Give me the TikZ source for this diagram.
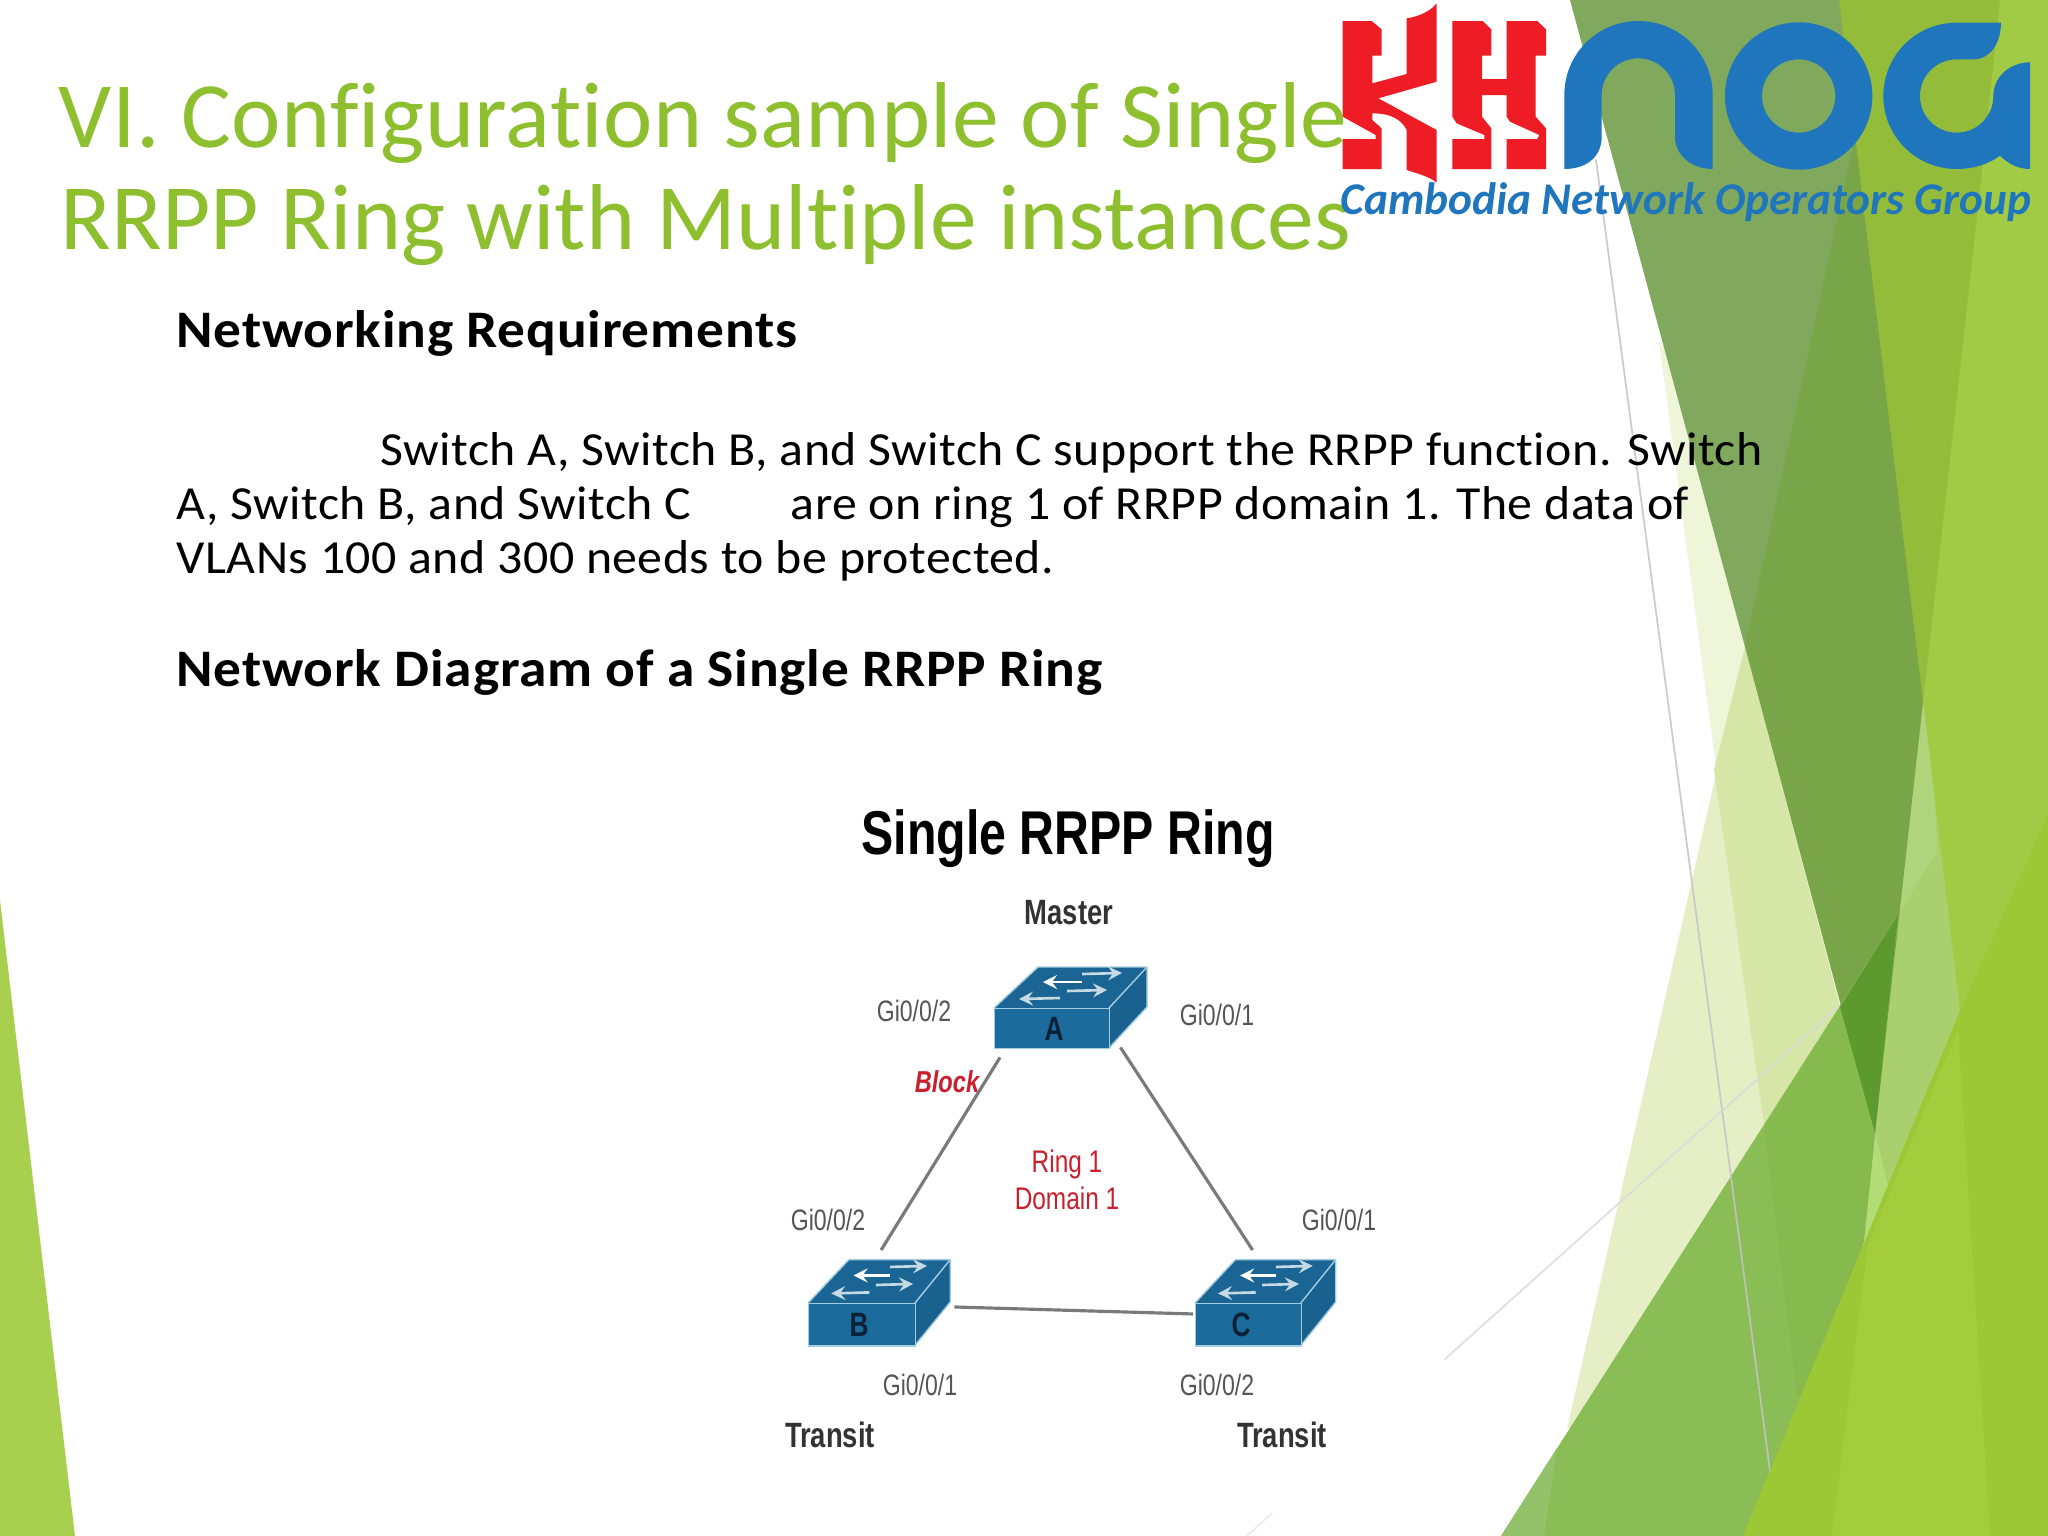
\documentclass[tikz,border=0pt]{standalone}
\usepackage{fontspec}
\setmainfont[Ligatures=NoCommon]{Carlito}
\newfontfamily\titlewide[Ligatures=NoCommon, LetterSpace=0.4]{Carlito}
\newfontfamily\bodyfont[Ligatures=NoCommon, FakeStretch=1.05, LetterSpace=1]{Carlito}
\newfontfamily\headfont[Ligatures=NoCommon, FakeStretch=1.05, LetterSpace=1.5]{Carlito}
\newfontfamily\figfont[FakeStretch=0.78]{Liberation Sans}
\definecolor{titlegreen}{HTML}{8DBF2E}
\definecolor{logored}{HTML}{EE1C25}
\definecolor{logoblue}{HTML}{1F76BC}
\definecolor{swface}{HTML}{1B6B9C}
\definecolor{swtop}{HTML}{1A6594}
\definecolor{swedge}{HTML}{A5CDE0}
\definecolor{swfade}{HTML}{C6DAE6}
\definecolor{swink}{HTML}{0B2236}
\definecolor{figgrey}{HTML}{555555}
\definecolor{figred}{HTML}{C8202F}
\definecolor{leftgreen}{HTML}{A9CF4F}
\definecolor{palea}{HTML}{EEF5D8}
\definecolor{paleb}{HTML}{E5EEC5}
\definecolor{palec}{HTML}{D6E6A6}
\definecolor{greyleaf}{HTML}{80A95E}
\definecolor{darkleaf}{HTML}{78A548}
\definecolor{oliveleaf}{HTML}{93BC3A}
\definecolor{lightleaf}{HTML}{A2CB45}
\definecolor{softleaf}{HTML}{A9CF6F}
\definecolor{softleafb}{HTML}{B0D47C}
\definecolor{softleafc}{HTML}{B2DC75}
\definecolor{midleaf}{HTML}{8ABD55}
\definecolor{midleafb}{HTML}{86BA4F}
\definecolor{midleafc}{HTML}{93C26A}
\definecolor{deepleaf}{HTML}{5D9A2D}
\definecolor{brightleaf}{HTML}{9CC835}
\definecolor{brightleafb}{HTML}{A4CD3E}
\definecolor{lineone}{HTML}{C4C4C8}
\definecolor{linetwo}{HTML}{D8D8DC}
\definecolor{linethree}{HTML}{ECECEF}
\tikzset{
  titletext/.style={anchor=base west, inner sep=0, text=titlegreen, font=\fontsize{26.6}{30}\selectfont},
  headtext/.style={anchor=base west, inner sep=0, font=\headfont\fontsize{15}{18}\selectfont\bfseries},
  bodytext/.style={anchor=base west, inner sep=0, font=\bodyfont\fontsize{13.5}{16}\selectfont},
  figtext/.style={anchor=base, inner sep=0, font=\figfont\fontsize{8.4}{10}\selectfont},
  portlabel/.style={figtext, text=figgrey},
  rolelabel/.style={figtext, text=black!80, font=\figfont\fontsize{10}{12}\selectfont\bfseries},
  ringlabel/.style={figtext, text=figred, font=\figfont\fontsize{8.9}{10}\selectfont},
  swfront/.style={draw=swedge, fill=swface, line width=0.4pt, inner sep=0, anchor=north west,
    minimum width=1.15cm, minimum height=0.40cm, transform shape},
  swtext/.style={inner sep=0, text=swink, font=\figfont\fontsize{9.6}{11}\selectfont\bfseries},
  swpanel/.style={draw=swedge, line width=0.4pt, line join=round},
  swarrow/.style={->, line width=0.75pt},
  link/.style={draw=black!52, line width=0.9pt},
  thinline/.style={line width=0.5pt, line cap=round}
}
\begin{document}
\begin{tikzpicture}[>=stealth, x=0.01cm, y=-0.01cm]
  \useasboundingbox (0, 0) rectangle (2048, 1536);
  \fill[white] (0, 0) rectangle (2048, 1536);

  \fill[leftgreen] (0, 900) -- (75, 1536) -- (0, 1536) -- cycle;

  \fill[palea] (1659, 342) -- (1764, 1124) -- (1900, 1000) -- (1800, 500) -- cycle;
  \fill[paleb] (1745, 647) -- (1567, 1429) -- (1620, 1400) -- (1840, 1007) -- cycle;
  \fill[palec] (1745, 647) -- (1714, 770) -- (1764, 1124) -- (1840, 1007) -- cycle;

  \fill[lightleaf] (1900, 0) -- (2048, 0) -- (2048, 1000) -- (1900, 1200) -- cycle;
  \fill[oliveleaf] (1820, 0) -- (2000, 0) -- (1977, 216) -- (1923, 702) -- (1890, 750) -- cycle;
  \fill[softleaf] (1923, 702) -- (1960, 1011) -- (1880, 1250) -- (1860, 1133) -- (1880, 800) -- cycle;
  \fill[softleafb] (1923, 702) -- (1935, 800) -- (1937, 852) -- (1898, 915) -- (1880, 800) -- cycle;
  \fill[softleafc] (1875, 1133) -- (1895, 1213) -- (1870, 1260) -- (1864, 1241) -- cycle;
  \fill[greyleaf] (1570, 0) -- (1839, 0) -- (1855, 136) -- (1780, 647) -- (1745, 647) -- cycle;
  \fill[darkleaf] (1855, 136) -- (1745, 647) -- (1875, 1133) -- (1923, 702) -- cycle;

  \fill[midleaf] (1501, 1536) -- (1898, 915) -- (1875, 1133) -- (1864, 1241) -- (1800, 1536) -- cycle;
  \fill[midleafb] (1764, 1129) -- (1840, 1007) -- (1875, 1133) -- (1864, 1241) -- (1830, 1400) -- (1797, 1396) -- cycle;
  \fill[midleafc] (1501, 1536) -- (1544, 1536) -- (1557, 1448) -- cycle;
  \fill[deepleaf] (1898, 915) -- (1840, 1007) -- (1875, 1133) -- cycle;

  \draw[thinline, lineone, draw opacity=0.85] (1596, 160) -- (1681, 800) -- (1770, 1471);
  \draw[thinline, linetwo, draw opacity=0.8] (1445, 1359) -- (1838, 1007);
  \draw[thinline, linethree] (1247, 1536) -- (1272, 1513);

  \fill[brightleaf] (1743, 1536) -- (1960, 1011) -- (2048, 814) -- (2048, 1536) -- cycle;
  \fill[brightleafb] (1832, 1536) -- (1868, 1245) -- (1958, 1030) -- (1990, 1536) -- cycle;

  \node[titletext] (titleone) at (58, 147) {\titlewide VI. Configuration sample of Single};
  \node[titletext] (titletwo) at (60, 249) {RRPP Ring with Multiple instances};

  \node[headtext] (reqhead) at (176, 347) {Networking Requirements};
  \node[bodytext] (paraone) at (380, 465) {Switch A, Switch B, and Switch C support the RRPP function. Switch};
  \node[bodytext] (paratwo) at (176, 519) {A, Switch B, and Switch C};
  \node[bodytext] (paratwob) at (790, 519) {are on ring 1 of RRPP domain 1. The data of};
  \node[bodytext] (parathree) at (176, 573) {VLANs 100 and 300 needs to be protected.};
  \node[headtext] (diaghead) at (176, 686) {Network Diagram of a Single RRPP Ring};

  \begin{scope}[shift={(1330, 0)}, scale=1/3]
    \fill[logored] (38, 63) -- (125, 63) -- (155, 88) -- (155, 167) -- (127, 167) -- (127, 250) -- (230, 222) -- (230, 55)
      .. controls (265, 50) and (300, 35) .. (320, 10) -- (320, 245) -- (145, 295) -- (320, 390) -- (320, 548)
      .. controls (300, 530) and (260, 520) .. (230, 510) -- (230, 390) .. controls (215, 360) and (185, 340) .. (127, 340)
      -- (127, 360) -- (155, 385) -- (155, 507) -- (38, 507) -- (38, 417) -- (137, 417) -- (137, 405) -- (38, 350) -- cycle;
    \fill[logored] (367, 63) -- (458, 63) -- (484, 88) -- (484, 167) -- (456, 167) -- (456, 237) -- (530, 237) -- (530, 63)
      -- (622, 63) -- (648, 88) -- (648, 167) -- (617, 167) -- (617, 350) -- (648, 385) -- (648, 507) -- (530, 507)
      -- (530, 417) -- (622, 417) -- (628, 405) -- (540, 365) -- (530, 350) -- (530, 285) -- (456, 285) -- (456, 350)
      -- (484, 385) -- (484, 507) -- (367, 507) -- (367, 417) -- (463, 417) -- (463, 405) -- (380, 370) -- (367, 350) -- cycle;
  \end{scope}
  \begin{scope}[shift={(1550, 10)}, scale=1/3]
    \fill[logoblue] (43, 477) .. controls (110, 477) and (155, 440) .. (155, 380) -- (155, 255)
      .. controls (155, 194) and (204, 145) .. (265, 145) .. controls (326, 145) and (375, 194) .. (375, 255) -- (375, 380)
      .. controls (375, 440) and (430, 477) .. (488, 477) -- (488, 255)
      .. controls (488, 132) and (388, 33) .. (265, 33) .. controls (142, 33) and (43, 132) .. (43, 255) -- cycle;
    \fill[logoblue, even odd rule] (746, 258) circle (221) (746, 258) circle (110);
    \fill[logoblue] (1353, 38) -- (1220, 38) .. controls (1098, 38) and (1000, 136) .. (1000, 258)
      .. controls (1000, 379) and (1098, 477) .. (1220, 477) .. controls (1270, 477) and (1315, 463) .. (1350, 437)
      .. controls (1375, 462) and (1405, 477) .. (1440, 477) -- (1440, 157)
      .. controls (1380, 157) and (1330, 200) .. (1330, 258) .. controls (1330, 319) and (1281, 368) .. (1220, 368)
      .. controls (1159, 368) and (1110, 319) .. (1110, 258) .. controls (1110, 197) and (1159, 148) .. (1220, 148)
      -- (1270, 148) .. controls (1320, 148) and (1353, 100) .. (1353, 38) -- cycle;
  \end{scope}
  \node[anchor=base west, inner sep=0, text=logoblue, font=\fontsize{12.9}{15}\selectfont\bfseries\itshape] (logotext) at (1340, 214) {Cambodia Network Operators Group};

  \node[figtext, font=\figfont\fontsize{17.6}{20}\selectfont\bfseries] (figtitle) at (1068, 854) {Single RRPP Ring};
  \node[rolelabel] (master) at (1069, 924) {Master};
  \node[rolelabel] (transitb) at (830, 1447) {Transit};
  \node[rolelabel] (transitc) at (1282, 1447) {Transit};

  \foreach \swname/\swlabel/\swx/\swy/\swsx/\swsy/\swlx in {swA/A/994/1008/1/1/60, swB/B/808/1303/0.93/1.06/55, swC/C/1195/1303/0.92/1.06/50} {
    \begin{scope}[shift={(\swx, \swy)}, xscale=\swsx, yscale=\swsy]
      \fill[swtop] (0, 0) -- (44, -41) -- (153, -41) -- (115, 0) -- cycle;
      \fill[swface!92!black] (115, 0) -- (153, -41) -- (153, -1) -- (115, 40) -- cycle;
      \draw[swpanel] (0, 0) -- (44, -41) -- (153, -41) -- (153, -1) -- (115, 40);
      \draw[swpanel] (115, 0) -- (153, -41);
      \node[swfront] (\swname) at (0, 0) {};
      \node[swtext] (\swname text) at (\swlx, 21) {\swlabel};
      \draw[swarrow, swfade] (88, -34) -- (128, -35);
      \draw[swarrow, white] (88, -26) -- (49, -26);
      \draw[swarrow, swfade] (73, -17) -- (113, -18);
      \draw[swarrow, swfade] (66, -10) -- (25, -9);
    \end{scope}
  }

  \draw[link] ([shift={(6, 8)}]swA.south west) -- ([shift={(19, -53)}]swB.north);
  \draw[link] ([shift={(10, -2)}]swA.south east) -- ([shift={(4, -53)}]swC.north);
  \draw[link] ([shift={(38, -18)}]swB.east) -- ([shift={(-2, -11)}]swC.west);

  \node[portlabel] (portag) at (914, 1021) {Gi0/0/2};
  \node[portlabel] (portaf) at (1217, 1025) {Gi0/0/1};
  \node[portlabel] (portbg) at (828, 1230) {Gi0/0/2};
  \node[portlabel] (portcf) at (1339, 1230) {Gi0/0/1};
  \node[portlabel] (portbf) at (920, 1395) {Gi0/0/1};
  \node[portlabel] (portcg) at (1217, 1395) {Gi0/0/2};

  \node[figtext, text=figred, font=\figfont\fontsize{8.6}{10}\selectfont\bfseries\itshape] (block) at (947, 1092) {Block};
  \node[ringlabel] (ringname) at (1067, 1172) {Ring 1};
  \node[ringlabel] (domainname) at (1067, 1209) {Domain 1};
\end{tikzpicture}
\end{document}
